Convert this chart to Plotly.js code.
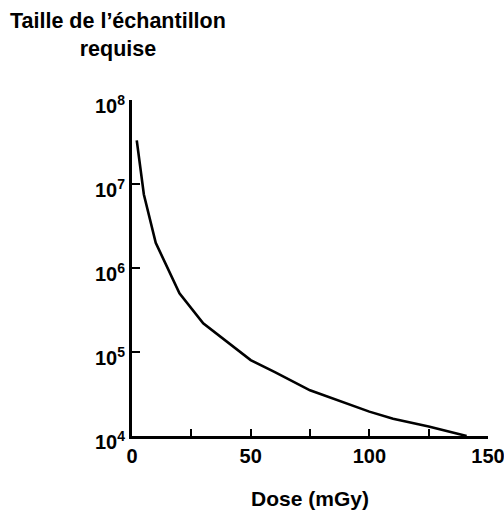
<!DOCTYPE html>
<html>
<head>
<meta charset="utf-8">
<script src="https://cdn.plot.ly/plotly-3.0.1.min.js"></script>
<style>html,body{margin:0;padding:0;background:#fff;}#chart{width:504px;height:511px;}</style>
</head>
<body>
<div id="chart"></div>
<script>
const dose = [2, 5, 10, 20, 30, 50, 60, 75, 100, 110, 125, 141];
const sampleSize = [3.3e7, 7.5e6, 2.0e6, 5.0e5, 2.2e5, 8.0e4, 5.8e4, 3.5e4, 1.95e4, 1.6e4, 1.3e4, 1.0e4];
const xTickVals = [0, 25, 50, 75, 100, 125, 150];
const xTickText = ['0', '', '50', '', '100', '', '150'];
const yTickVals = [1e4, 1e5, 1e6, 1e7, 1e8];
const yTickText = ['10<sup>4</sup>', '10<sup>5</sup>', '10<sup>6</sup>', '10<sup>7</sup>', '10<sup>8</sup>'];
const titleText = 'Taille de l’échantillon<br>requise';
const xTitle = 'Dose (mGy)';

const font = {family: 'Liberation Sans, Arial, sans-serif', color: '#000', weight: 'bold'};

Plotly.newPlot('chart', [{
  x: dose, y: sampleSize, type: 'scatter', mode: 'lines',
  line: {color: '#000', width: 2.6}, hoverinfo: 'skip'
}], {
  width: 504, height: 511,
  margin: {l: 132, r: 16, t: 100, b: 75},
  paper_bgcolor: '#fff', plot_bgcolor: '#fff',
  showlegend: false,
  annotations: [{
    text: titleText, xref: 'paper', yref: 'paper',
    x: -0.039, y: 1.277, xanchor: 'center', yanchor: 'top',
    showarrow: false, align: 'center',
    font: Object.assign({size: 21.5}, font)
  }],
  xaxis: {range: [0, 150], tickmode: 'array', tickvals: xTickVals, ticktext: xTickText,
          ticks: 'inside', ticklen: 7, tickwidth: 2, tickcolor: '#000',
          ticklabeloverflow: 'allow',
          showline: true, linewidth: 3, linecolor: '#000', showgrid: false, zeroline: false,
          tickfont: Object.assign({size: 20}, font),
          title: {text: xTitle, font: Object.assign({size: 21}, font), standoff: 26}},
  yaxis: {type: 'log', range: [4, 8], tickmode: 'array', tickvals: yTickVals, ticktext: yTickText,
          ticks: 'inside', ticklen: 8, tickwidth: 2, tickcolor: '#000',
          ticklabelshift: 6,
          showline: true, linewidth: 3, linecolor: '#000', showgrid: false, zeroline: false,
          tickfont: Object.assign({size: 20}, font)}
}, {staticPlot: true});
</script>
</body>
</html>
